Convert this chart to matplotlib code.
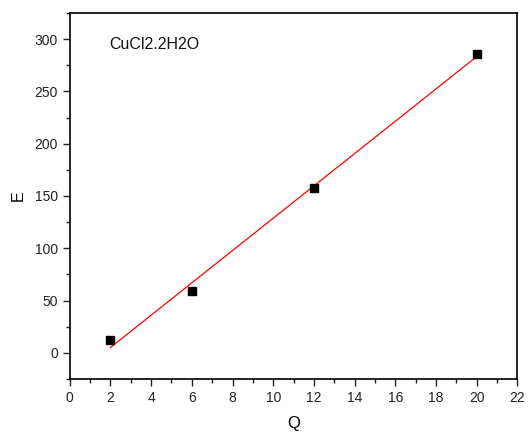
import numpy as np
import matplotlib.pyplot as plt
from matplotlib.ticker import MultipleLocator

plt.rcParams['font.family'] = ['Liberation Sans', 'DejaVu Sans']

q = np.array([2, 6, 12, 20])
e = np.array([12, 59, 158, 286])

# linear fit
k, b = np.polyfit(q, e, 1)
q_fit = np.array([q.min(), q.max()])
e_fit = k * q_fit + b

fig = plt.figure(figsize=(5.28, 4.32), dpi=100)
ax = fig.add_axes([0.132, 0.1227, 0.848, 0.8473])

ax.plot(q_fit, e_fit, color='red', lw=0.9)
ax.plot(q, e, 's', color='black', ms=6)

ax.set_xlim(0, 22)
ax.set_ylim(-25, 325)
ax.xaxis.set_major_locator(MultipleLocator(2))
ax.xaxis.set_minor_locator(MultipleLocator(1))
ax.yaxis.set_major_locator(MultipleLocator(50))
ax.yaxis.set_minor_locator(MultipleLocator(25))
ax.tick_params(which='both', direction='out', labelsize=10, width=1, colors='#222222')
ax.tick_params(which='major', length=5)
ax.tick_params(which='minor', length=3)
for s in ax.spines.values():
    s.set_linewidth(1.2)

ax.text(1.93, 295, 'CuCl2.2H2O', fontsize=11.5, va='center', ha='left', color='#111111')
ax.set_xlabel('Q', fontsize=12, labelpad=8)
ax.set_ylabel('E', fontsize=11.5, labelpad=6)

fig.savefig('out.png', dpi=100)
